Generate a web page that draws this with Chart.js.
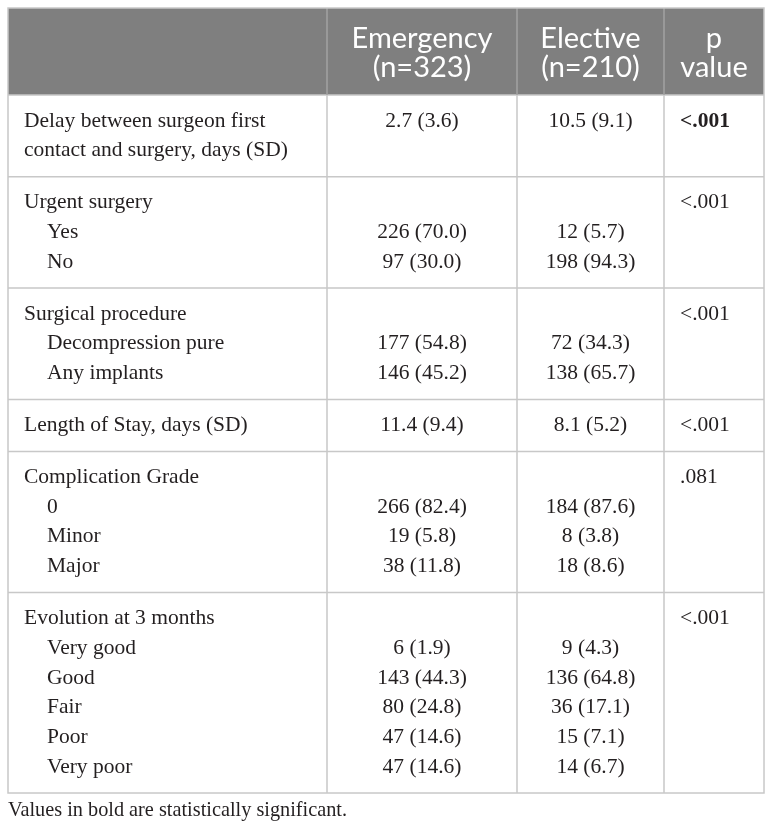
<!DOCTYPE html>
<html>
<head>
<meta charset="utf-8">
<script src="https://cdn.jsdelivr.net/npm/chart.js@4.4.1/dist/chart.umd.min.js"></script>
<style>
  html, body { margin: 0; padding: 0; background: #fff; }
  #wrap { width: 772px; height: 834px; }
</style>
</head>
<body>
<div id="wrap"><canvas id="tableChart"></canvas></div>
<script>
// column headers
const headers = [[''], ['Emergency', '(n=323)'], ['Elective', '(n=210)'], ['p', 'value']];

// one entry per row group, one string per text line
const labels = [
  ['Delay between surgeon first', 'contact and surgery, days (SD)'],
  ['Urgent surgery', 'Yes', 'No'],
  ['Surgical procedure', 'Decompression pure', 'Any implants'],
  ['Length of Stay, days (SD)'],
  ['Complication Grade', '0', 'Minor', 'Major'],
  ['Evolution at 3 months', 'Very good', 'Good', 'Fair', 'Poor', 'Very poor']
];
const emergency = [
  ['2.7 (3.6)', ''],
  ['', '226 (70.0)', '97 (30.0)'],
  ['', '177 (54.8)', '146 (45.2)'],
  ['11.4 (9.4)'],
  ['', '266 (82.4)', '19 (5.8)', '38 (11.8)'],
  ['', '6 (1.9)', '143 (44.3)', '80 (24.8)', '47 (14.6)', '47 (14.6)']
];
const elective = [
  ['10.5 (9.1)', ''],
  ['', '12 (5.7)', '198 (94.3)'],
  ['', '72 (34.3)', '138 (65.7)'],
  ['8.1 (5.2)'],
  ['', '184 (87.6)', '8 (3.8)', '18 (8.6)'],
  ['', '9 (4.3)', '136 (64.8)', '36 (17.1)', '15 (7.1)', '14 (6.7)']
];
const pValues = ['<.001', '<.001', '<.001', '<.001', '.081', '<.001'];
const pBold = [true, false, false, false, false, false];
const subItems = [false, true, true, false, true, true];
const footnote = 'Values in bold are statistically significant.';

// layout (scale units): x in table width units, y in text lines
const colEdges = [0, 319, 509, 656, 756];
const HEAD = 2.93;
const PAD = 0.875;

const groupTops = [];
let acc = HEAD;
labels.forEach(g => { groupTops.push(acc); acc += g.length - 1 + 2 * PAD; });
const TOTAL = acc;

const SERIF = '"Liberation Serif", "DejaVu Serif", serif';
const SANS = 'Lato, "Open Sans", sans-serif';
const GRID = '#c8c8c8';

const tablePlugin = {
  id: 'tableDraw',
  beforeDraw(chart) {
    const ctx = chart.ctx, x = chart.scales.x, y = chart.scales.y;
    ctx.save();
    ctx.fillStyle = '#7f7f7f';
    ctx.fillRect(x.getPixelForValue(0), y.getPixelForValue(0),
      x.getPixelForValue(colEdges[4]) - x.getPixelForValue(0),
      y.getPixelForValue(HEAD) - y.getPixelForValue(0));
    ctx.restore();
  },
  afterDraw(chart) {
    const ctx = chart.ctx, x = chart.scales.x, y = chart.scales.y;
    const px = v => x.getPixelForValue(v);
    const py = v => y.getPixelForValue(v);
    ctx.save();

    // header text
    ctx.fillStyle = '#ffffff';
    ctx.font = '29px ' + SANS;
    ctx.textAlign = 'center';
    ctx.textBaseline = 'middle';
    headers.forEach((h, c) => {
      const cx = (px(colEdges[c]) + px(colEdges[c + 1])) / 2;
      h.forEach((t, i) => {
        ctx.fillText(t, cx, py(HEAD / 2 + 0.06 + (i - (h.length - 1) / 2) * 0.98));
      });
    });

    // body text
    ctx.fillStyle = '#231f20';
    labels.forEach((g, gi) => {
      const top = groupTops[gi];
      g.forEach((t, li) => {
        const ly = py(top + PAD + li);
        ctx.font = '21.5px ' + SERIF;
        ctx.textAlign = 'left';
        const indent = subItems[gi] && li > 0 ? 39 : 16;
        ctx.fillText(t, px(indent), ly);
        ctx.textAlign = 'center';
        const e = emergency[gi][li], el = elective[gi][li];
        if (e) ctx.fillText(e, (px(colEdges[1]) + px(colEdges[2])) / 2, ly);
        if (el) ctx.fillText(el, (px(colEdges[2]) + px(colEdges[3])) / 2, ly);
      });
      ctx.textAlign = 'left';
      ctx.font = (pBold[gi] ? 'bold ' : '') + '21.5px ' + SERIF;
      ctx.fillText(pValues[gi], px(colEdges[3] + 16), py(top + PAD));
    });

    // grid lines
    ctx.lineWidth = 1.5;
    ctx.strokeStyle = GRID;
    const yTop = py(0), yBot = py(TOTAL), yHead = py(HEAD);
    ctx.beginPath();
    [HEAD, ...groupTops.slice(1)].forEach(v => {
      ctx.moveTo(px(colEdges[0]), py(v));
      ctx.lineTo(px(colEdges[4]), py(v));
    });
    [colEdges[1], colEdges[2], colEdges[3]].forEach(v => {
      ctx.moveTo(px(v), yHead);
      ctx.lineTo(px(v), yBot);
    });
    ctx.stroke();
    ctx.strokeStyle = '#a3a3a3';
    ctx.beginPath();
    [colEdges[1], colEdges[2], colEdges[3]].forEach(v => {
      ctx.moveTo(px(v), yTop);
      ctx.lineTo(px(v), yHead);
    });
    ctx.stroke();
    ctx.strokeStyle = GRID;
    ctx.strokeRect(px(colEdges[0]), yTop, px(colEdges[4]) - px(colEdges[0]), yBot - yTop);

    // footnote
    ctx.fillStyle = '#231f20';
    ctx.font = '20.3px ' + SERIF;
    ctx.textAlign = 'left';
    ctx.fillText(footnote, px(colEdges[0]), py(TOTAL + 0.58));
    ctx.restore();
  }
};

new Chart(document.getElementById('tableChart'), {
  type: 'scatter',
  data: { datasets: [] },
  options: {
    responsive: true,
    maintainAspectRatio: false,
    animation: false,
    layout: { padding: { left: 8, right: 8, top: 8, bottom: 41 } },
    plugins: { legend: { display: false }, tooltip: { enabled: false } },
    scales: {
      x: { type: 'linear', display: false, min: 0, max: colEdges[4] },
      y: { type: 'linear', display: false, min: 0, max: TOTAL, reverse: true }
    }
  },
  plugins: [tablePlugin]
});
</script>
</body>
</html>
